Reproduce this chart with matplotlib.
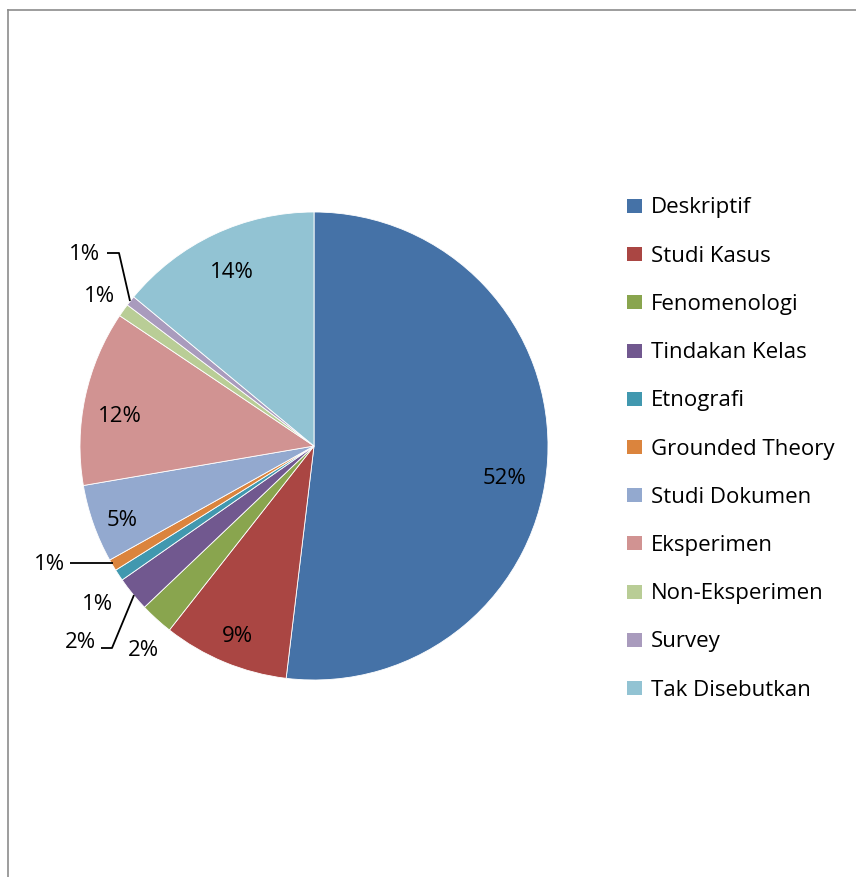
import matplotlib
matplotlib.use("Agg")
import matplotlib.pyplot as plt
from matplotlib.patches import Rectangle

# data (percent shares)
categories = ["Deskriptif", "Studi Kasus", "Fenomenologi", "Tindakan Kelas", "Etnografi",
              "Grounded Theory", "Studi Dokumen", "Eksperimen", "Non-Eksperimen",
              "Survey", "Tak Disebutkan"]
shares = [51.9, 8.7, 2.3, 2.4, 0.8, 0.8, 5.4, 12.1, 0.9, 0.7, 14.0]
colors = ["#4572A7", "#AA4643", "#89A54E", "#71588F", "#4198AF", "#DB843D",
          "#93A9CF", "#D19392", "#B9CD96", "#A99BBD", "#92C3D3"]

# label placement in image pixels (x, y from top)
label_pos = [(505, 479), (237, 636), (143, 650), (80, 643), (98, 604), (50, 565),
             (122, 521), (120, 416), (100, 297), (85, 255), (232, 272)]
# leader lines (image pixels) for the labels set outside the pie
leaders = [
    [(101, 648), (112, 648), (134, 595)],   # Tindakan Kelas
    [(70, 563), (113, 563)],                # Grounded Theory
    [(107, 253), (119, 253), (130, 301)],   # Survey
]

W, H = 856, 877
fig = plt.figure(figsize=(W / 100, H / 100), dpi=100)
ax = fig.add_axes([0, 0, 1, 1])

font = "Open Sans"
fs = 16

cx, cy, r = 314, 446, 234
ax.pie(shares, colors=colors, startangle=90, counterclock=False,
       center=(cx, H - cy), radius=r, frame=True,
       wedgeprops=dict(edgecolor="white", linewidth=0.6))
ax.set_xlim(0, W)
ax.set_ylim(0, H)
ax.set_aspect("equal")
ax.axis("off")

for v, (x, y) in zip(shares, label_pos):
    ax.text(x, H - y, f"{round(v)}%", ha="center", va="center",
            fontsize=fs, family=font, color="black")

for pts in leaders:
    xs = [p[0] for p in pts]
    ys = [H - p[1] for p in pts]
    ax.plot(xs, ys, color="black", lw=1.3, solid_capstyle="butt")

# legend drawn by hand
for i, (name, col) in enumerate(zip(categories, colors)):
    yc = 206 + i * 48.2
    ax.add_patch(Rectangle((627, H - yc - 7), 15, 14, facecolor=col, edgecolor="none"))
    ax.text(651, H - yc - 2, name, ha="left", va="center", fontsize=fs, family=font, color="black")

# chart frame (only left and top visible)
ax.plot([8, 8], [0, H - 10], color="#8c8c8c", lw=1.2)
ax.plot([8, W], [H - 10, H - 10], color="#8c8c8c", lw=1.2)

fig.savefig("out.png", dpi=100, facecolor="white")
